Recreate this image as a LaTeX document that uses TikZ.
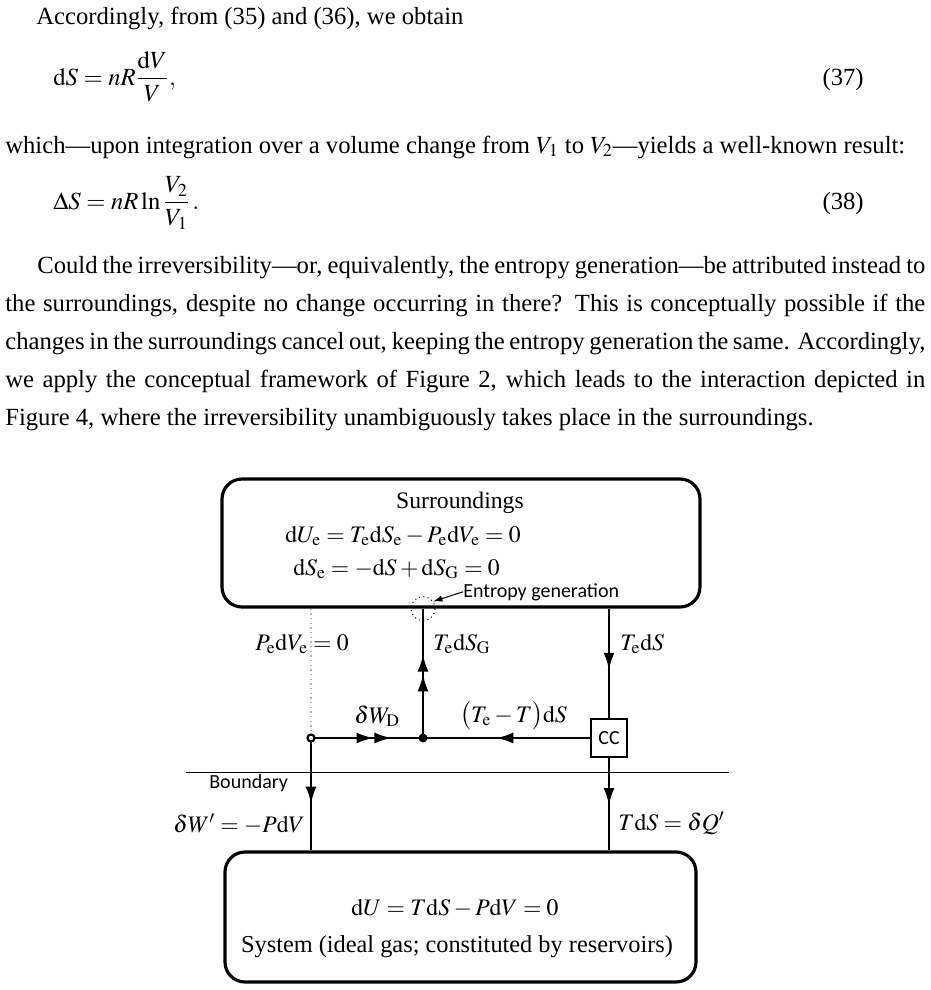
\documentclass[tikz,border=0pt]{standalone}
\usepackage{mathptmx}
\usepackage{fontspec}
\setmainfont{Liberation Serif}
\newfontfamily\calibri{Carlito}
\usetikzlibrary{arrows.meta,decorations.markings,positioning}

\tikzset{
	conn/.style={line width=1.7pt},
	bigbox/.style={draw, rounded corners=12pt, line width=1.9pt, inner sep=0pt},
	ccbox/.style={draw, line width=0.9pt, minimum width=21.6pt, minimum height=22.8pt, inner sep=0pt, font=\calibri\fontsize{12pt}{14pt}\selectfont},
	txt/.style={inner sep=0pt, font=\fontsize{14.8pt}{22.8pt}\selectfont},
	lbl/.style={inner sep=0pt, font=\fontsize{14.2pt}{16pt}\selectfont},
	sans/.style={inner sep=0pt, font=\calibri\fontsize{12pt}{14pt}\selectfont},
	tipat/.style={postaction={decorate,decoration={markings,mark=at position #1 with {\arrow{Latex[length=10.5pt,width=6.6pt]}}}}},
}

\begin{document}
\begin{tikzpicture}[x=0.6pt,y=-0.6pt]
	\useasboundingbox (0,0) rectangle (931,990);
	
	% text above the figure
	\node[txt, anchor=base west] (acc) at (36,24) {Accordingly, from (35) and (36), we obtain};
	\node[txt, anchor=base west] (eqa) at (53,85) {$\displaystyle \mathrm{d}S=nR\frac{\mathrm{d}V}{V},$};
	\node[txt, anchor=base east] (eqanum) at (864,85) {(37)};
	\node[txt, anchor=base west] (which) at (5,153) {which---upon integration over a volume change from $V_1$ to $V_2$---yields a well-known result:};
	\node[txt, anchor=base west] (eqb) at (53,209) {$\displaystyle \Delta S=nR\ln\frac{V_2}{V_1}\,.$};
	\node[txt, anchor=base east] (eqbnum) at (864,209) {(38)};
	\node[txt, anchor=base west, text width=552pt, align=justify] (para) at (5,273) {\hspace*{19.2pt}Could the irreversibility---or, equivalently, the entropy generation---be attributed instead to\linebreak
		the surroundings, despite no change occurring in there? This is conceptually possible if the\linebreak
		changes in the surroundings cancel out, keeping the entropy generation the same. Accordingly,\linebreak
		we apply the conceptual framework of Figure 2, which leads to the interaction depicted in\linebreak
		Figure 4, where the irreversibility unambiguously takes place in the surroundings.};
	
	% boxes
	\node[bigbox, minimum width=286.8pt, minimum height=76.8pt] (surr) at (461,543) {};
	\node[bigbox, minimum width=282.6pt, minimum height=78pt] (sys) at (460.5,917) {};
	\node[lbl, anchor=base] (surrname) at (460,508) {Surroundings};
	\node[lbl, anchor=base west] (surreqa) at (285,542) {$\mathrm{d}U_\mathrm{e}=T_\mathrm{e}\mathrm{d}S_\mathrm{e}-P_\mathrm{e}\mathrm{d}V_\mathrm{e}=0$};
	\node[lbl, anchor=base west] (surreqb) at (293,575) {$\mathrm{d}S_\mathrm{e}=-\mathrm{d}S+\mathrm{d}S_\mathrm{G}=0$};
	\node[lbl, anchor=base] (syseq) at (455,915) {$\mathrm{d}U=T\mathrm{d}S-P\mathrm{d}V=0$};
	\node[lbl, anchor=base, font=\fontsize{14.6pt}{16pt}\selectfont] (sysname) at (457,952) {System (ideal gas; constituted by reservoirs)};
	
	% junctions and converter
	\coordinate (wj) at (311,738);
	\coordinate (mj) at (423,738);
	\node[ccbox] (cc) at (609,738) {CC};
	
	% boundary
	\coordinate (bl) at (186,772);
	\coordinate (br) at (729,772);
	\draw[line width=0.6pt] (bl) -- (br);
	\node[sans, anchor=base west] (bnd) at (209,788) {Boundary};
	
	% connectors
	\draw[gray!60, dotted, line width=0.8pt] (surr.south -| wj) -- (wj);
	\draw[conn, tipat=0.588] (wj) -- (wj |- sys.north);
	\draw[conn, tipat=0.5625, tipat=0.723] (wj) -- (mj);
	\draw[conn, tipat=0.565] (cc.west) -- (mj);
	\draw[conn, tipat=0.496, tipat=0.649] (mj) -- (mj |- surr.south);
	\draw[conn, tipat=0.5625] (cc |- surr.south) -- (cc.north);
	\draw[conn, tipat=0.516] (cc.south) -- (cc |- sys.north);
	\node[circle, draw, fill=white, line width=1.3pt, minimum size=4.2pt, inner sep=0pt] (wdot) at (wj) {};
	\node[circle, fill=black, minimum size=5.4pt, inner sep=0pt] (mdot) at (mj) {};
	
	% entropy generation
	\node[circle, draw, dotted, line width=0.6pt, minimum size=14.4pt, inner sep=0pt] (egen) at (mj |- surr.south) {};
	\node[sans, anchor=base west] (egtext) at (463,597) {Entropy generation};
	\draw[line width=0.6pt, -{Latex[length=5.5pt,width=3.8pt]}] (egtext.west) -- (egen.35);
	
	% labels
	\node[lbl, anchor=base west] (pwork) at (255,650) {$P_\mathrm{e}\mathrm{d}V_\mathrm{e}=0$};
	\node[lbl, anchor=base west] (tsg) at (433,650) {$T_\mathrm{e}\mathrm{d}S_\mathrm{G}$};
	\node[lbl, anchor=base west] (tes) at (620,650) {$T_\mathrm{e}\mathrm{d}S$};
	\node[lbl, anchor=base west] (wd) at (354,723) {$\delta W_\mathrm{D}$};
	\node[lbl, anchor=base west] (tdiff) at (460,722) {$\bigl(T_\mathrm{e}-T\bigr)\mathrm{d}S$};
	\node[lbl, anchor=base west] (wprime) at (173,832) {$\delta W'=-P\mathrm{d}V$};
	\node[lbl, anchor=base west] (qprime) at (618,830) {$T\mathrm{d}S=\delta Q'$};
\end{tikzpicture}
\end{document}
